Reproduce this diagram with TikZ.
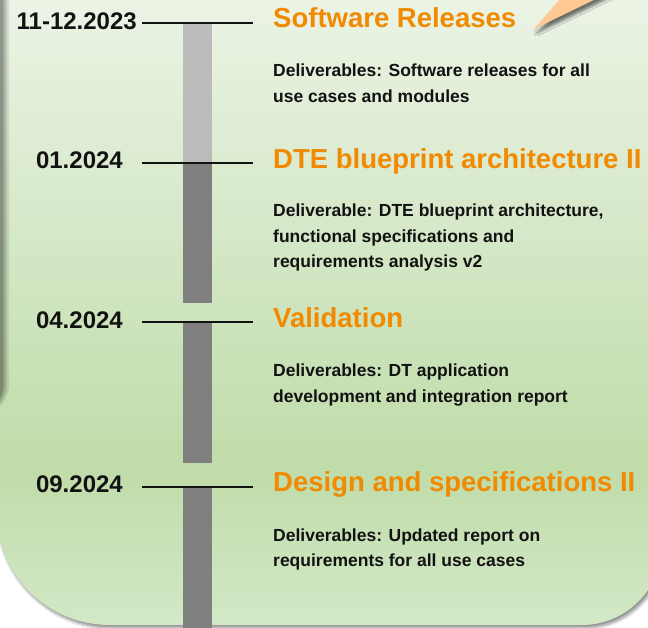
\documentclass[tikz,border=0pt]{standalone}
\usepackage{fontspec}
\setmainfont{Liberation Sans}
\usetikzlibrary{shadows.blur}

\definecolor{titleorange}{HTML}{F18A00}
\definecolor{bodyink}{HTML}{121212}
\definecolor{barlight}{HTML}{BBBBBB}
\definecolor{bardark}{HTML}{7F7F7F}
\definecolor{peach}{HTML}{FEC994}
\definecolor{gTop}{HTML}{EEF5E9}
\definecolor{gMid}{HTML}{BFDCA9}
\definecolor{gBot}{HTML}{D3E8C7}

% panel fill: light at the top, deeper green low down, a little lighter at the foot
\pgfdeclareverticalshading{panelshade}{100bp}{%
  color(0bp)=(gBot); color(25bp)=(gBot); color(37bp)=(gMid);
  color(75bp)=(gTop); color(100bp)=(gTop)}

\tikzset{
  datelabel/.style={font=\fontsize{24}{28}\selectfont\bfseries, text=bodyink,
    anchor=base east, inner sep=0pt},
  phasetitle/.style={font=\fontsize{27.5}{32}\selectfont\bfseries, text=titleorange,
    anchor=base west, inner sep=0pt},
  bodyline/.style={font=\fontsize{17.5}{21}\selectfont\bfseries, text=bodyink,
    anchor=base west, inner sep=0pt},
  tickline/.style={draw=bodyink, line width=2pt},
  seglight/.style={fill=barlight},
  segdark/.style={fill=bardark},
}

\begin{document}
\begin{tikzpicture}[x=1pt, y=-1pt]
\useasboundingbox (0,0) rectangle (648,628);

% green panel with soft drop shadow
\shade[shading=panelshade,
  blur shadow={shadow xshift=2pt, shadow yshift=-3pt, shadow blur radius=3pt,
    shadow blur steps=6, shadow opacity=45}]
  (-4,-30) -- (-4,511) .. controls (-4,574) and (47,625) .. (110,625)
  -- (582,625) .. controls (626,625) and (662,589) .. (662,545)
  -- (662,-30) -- cycle;

% shadow strip along the left edge
\foreach \w/\o in {9/0.08, 7/0.10, 5/0.12, 3/0.14}
  \fill[black, opacity=\o, rounded corners=30pt] (-60,-100) rectangle (\w,415);

% peach pointer at the top right
\fill[peach, blur shadow={shadow xshift=3pt, shadow yshift=-4pt,
    shadow opacity=55, shadow blur radius=3pt}]
  (534,29) -- (576.5,-20) -- (635,-20) -- cycle;

% timeline bar
\fill[seglight] (183,24) rectangle (212,163.3);
\fill[segdark] (183,163.3) rectangle (212,303.5);
\fill[segdark] (183,322.3) rectangle (212,462.5);
\fill[segdark] (183,487.3) rectangle (212,630);

% milestone ticks
\coordinate (t1w) at (142,23.3);  \coordinate (t1e) at (253,23.3);
\coordinate (t2w) at (142,163.3); \coordinate (t2e) at (253,163.3);
\coordinate (t3w) at (142,322.3); \coordinate (t3e) at (253,322.3);
\coordinate (t4w) at (142,487.3); \coordinate (t4e) at (253,487.3);
\draw[tickline] (t1w) -- (t1e);
\draw[tickline] (t2w) -- (t2e);
\draw[tickline] (t3w) -- (t3e);
\draw[tickline] (t4w) -- (t4e);

% dates
\node[datelabel] (d1) at (137,29.3)  {11-12.2023};
\node[datelabel] (d2) at (123,169)   {01.2024};
\node[datelabel] (d3) at (123,328.3) {04.2024};
\node[datelabel] (d4) at (123,492.7) {09.2024};

% phases
\node[phasetitle] (p1) at (273,27.3)  {Software Releases};
\node[bodyline] (p1a) at (273,76.7)  {Deliverables: Software releases for all};
\node[bodyline] (p1b) at (273,102.2) {use cases and modules};

\node[phasetitle] (p2) at (273,168.3) {DTE blueprint architecture II};
\node[bodyline] (p2a) at (273,216.7) {Deliverable: DTE blueprint architecture,};
\node[bodyline] (p2b) at (273,242.2) {functional specifications and};
\node[bodyline] (p2c) at (273,267.7) {requirements analysis v2};

\node[phasetitle] (p3) at (273,327.3) {Validation};
\node[bodyline] (p3a) at (273,376.7) {Deliverables: DT application};
\node[bodyline] (p3b) at (273,402.2) {development and integration report};

\node[phasetitle] (p4) at (273,491.7) {Design and specifications II};
\node[bodyline] (p4a) at (273,541)   {Deliverables: Updated report on};
\node[bodyline] (p4b) at (273,566.5) {requirements for all use cases};
\end{tikzpicture}
\end{document}
